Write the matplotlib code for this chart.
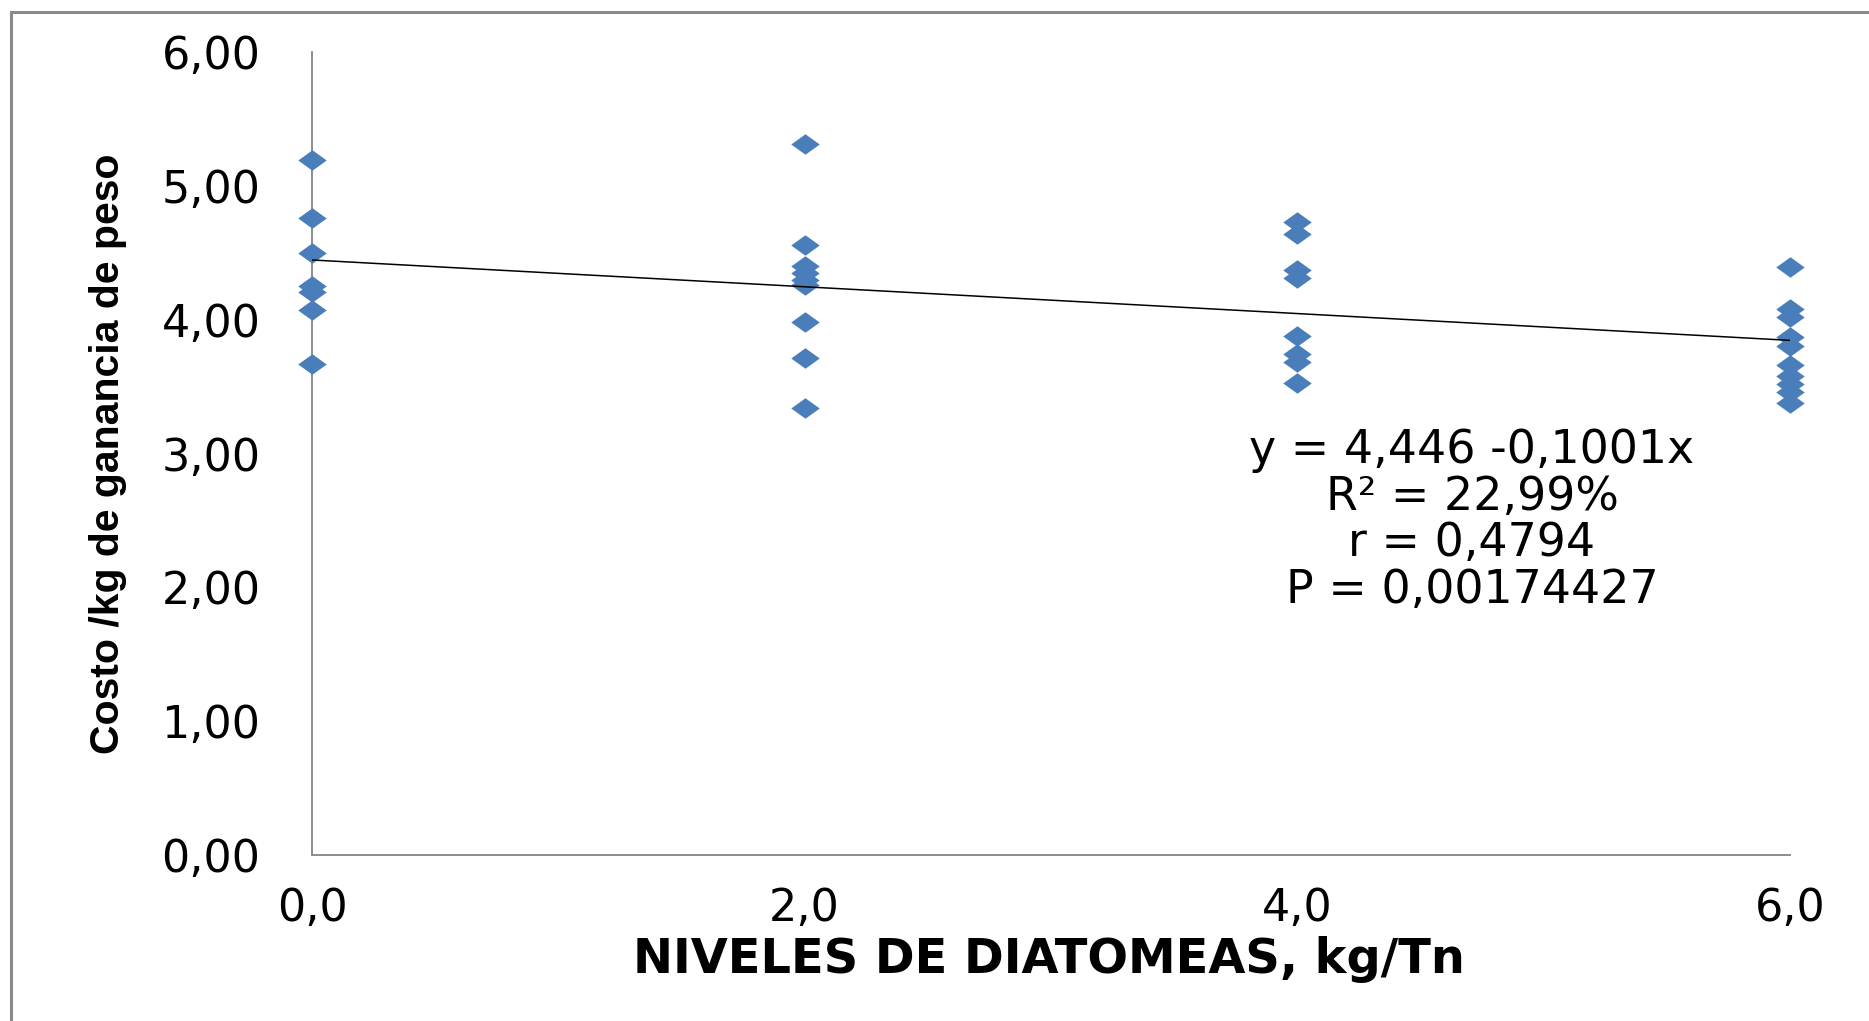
import matplotlib
matplotlib.use("Agg")
import matplotlib.pyplot as plt
from matplotlib.lines import Line2D

# ---- data ----
niveles_0 = [5.19, 4.76, 4.50, 4.25, 4.21, 4.07, 3.67]
niveles_2 = [5.31, 4.56, 4.40, 4.35, 4.30, 4.26, 3.98, 3.71, 3.34]
niveles_4 = [4.73, 4.64, 4.37, 4.31, 3.88, 3.74, 3.68, 3.53]
niveles_6 = [4.39, 4.08, 4.02, 3.87, 3.80, 3.66, 3.58, 3.52, 3.46, 3.38]
x_levels = [0.0, 2.0, 4.0, 6.0]
groups = [niveles_0, niveles_2, niveles_4, niveles_6]

intercept = 4.446
slope = -0.1001

x_ticks = [0, 2, 4, 6]
x_ticklabels = ["0,0", "2,0", "4,0", "6,0"]
y_ticks = [0, 1, 2, 3, 4, 5, 6]
y_ticklabels = ["0,00", "1,00", "2,00", "3,00", "4,00", "5,00", "6,00"]

annot_lines = ["y = 4,446 -0,1001x", "R\u00b2 = 22,99%", "r = 0,4794", "P = 0,00174427"]
xlabel = "NIVELES DE DIATOMEAS, kg/Tn"
ylabel = "Costo /kg de ganancia de peso"

# ---- figure ----
W, H = 1869, 1021
fig = plt.figure(figsize=(W / 100, H / 100), dpi=100)
ax = fig.add_axes([312 / W, 1 - 855 / H, (1790 - 312) / W, (855 - 52) / H])

diamond = [(-1, 0), (0, 0.72), (1, 0), (0, -0.72), (-1, 0)]
xs, ys = [], []
for xv, g in zip(x_levels, groups):
    xs += [xv] * len(g)
    ys += g
ax.plot(xs, ys, linestyle="none", marker=diamond, markersize=20.5,
        color="#4A7EBB", markeredgewidth=0, zorder=3, clip_on=False)

ax.plot([x_levels[0], x_levels[-1]],
        [intercept + slope * x_levels[0], intercept + slope * x_levels[-1]],
        color="black", lw=1.1, zorder=4)

ax.set_xlim(0, 6)
ax.set_ylim(0, 6)
ax.set_xticks(x_ticks)
ax.set_xticklabels(x_ticklabels)
ax.set_yticks(y_ticks)
ax.set_yticklabels(y_ticklabels)
for s in ["top", "right"]:
    ax.spines[s].set_visible(False)
for s in ["left", "bottom"]:
    ax.spines[s].set_color("#8c8c8c")
    ax.spines[s].set_linewidth(1.4)
ax.tick_params(axis="both", length=0, labelsize=32, labelcolor="black")
ax.tick_params(axis="x", pad=23)
ax.tick_params(axis="y", pad=37)
for t in ax.get_xticklabels() + ax.get_yticklabels():
    t.set_fontfamily("DejaVu Sans")

fig.text(1049 / W, 1 - 973 / H, xlabel, ha="center", va="baseline",
         fontsize=34.5, fontweight="bold", family="DejaVu Sans")
fig.text(119 / W, 1 - 454 / H, ylabel, ha="center", va="baseline",
         rotation=90, rotation_mode="anchor",
         fontsize=29.5, fontweight="bold", family="Liberation Sans")

base0 = 463
for i, line in enumerate(annot_lines):
    fig.text(1472 / W, 1 - (base0 + i * 46.7) / H, line, ha="center",
             va="baseline", fontsize=33, family="DejaVu Sans")

# outer border (left and top visible)
fig.add_artist(Line2D([11 / W, 11 / W], [0, 1 - 12 / H], transform=fig.transFigure,
                      color="#8a8a8a", lw=2.2))
fig.add_artist(Line2D([11 / W, 1], [1 - 12 / H, 1 - 12 / H], transform=fig.transFigure,
                      color="#8a8a8a", lw=2.2))

fig.savefig("out.png", dpi=100)
